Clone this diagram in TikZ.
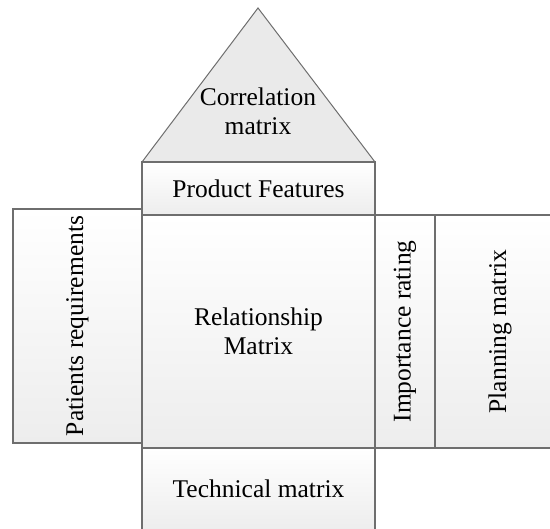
\documentclass[tikz,border=0pt]{standalone}
\usepackage{fontspec}
\setmainfont{Liberation Serif}
\definecolor{edge}{HTML}{6E6E6E}
\definecolor{shadegray}{HTML}{EDEDED}
\definecolor{trifill}{HTML}{EAEAEA}
\begin{document}
\begin{tikzpicture}[x=1pt,y=-1pt,
  lbl/.style={font=\fontsize{25.5}{29}\selectfont, align=center, inner sep=0pt},
  box/.style={lbl, draw=edge, line width=1.3pt, top color=white, bottom color=shadegray},
  vbox/.style={box, rotate=90}]
\useasboundingbox (0,0) rectangle (550,529);
\clip (0,0) rectangle (550,529);
% correlation roof
\coordinate (apex) at (258,8);
\coordinate (bl) at (142,162);
\coordinate (br) at (375,162);
\draw[edge, line width=1pt, fill=trifill] (bl) -- (apex) -- (br) -- cycle;
\node[lbl] (corr) at (258,111) {Correlation\\matrix};
% left wing
\node[vbox, minimum width=234pt, minimum height=129pt] (pat) at (77.5,326) {Patients requirements};
% central column
\node[box, minimum width=233pt, minimum height=53pt] (pf) at (258.5,188.5) {Product Features};
\node[box, minimum width=233pt, minimum height=233pt] (rel) at (258.5,331.5) {Relationship\\Matrix};
\node[box, minimum width=233pt, minimum height=82pt] (tech) at (258.5,489) {Technical matrix};
% right wing
\node[vbox, minimum width=233pt, minimum height=60pt] (imp) at (405,331.5) {Importance rating};
\node[vbox, minimum width=233pt, minimum height=130pt] (plan) at (500,331.5) {Planning matrix};
\end{tikzpicture}
\end{document}
